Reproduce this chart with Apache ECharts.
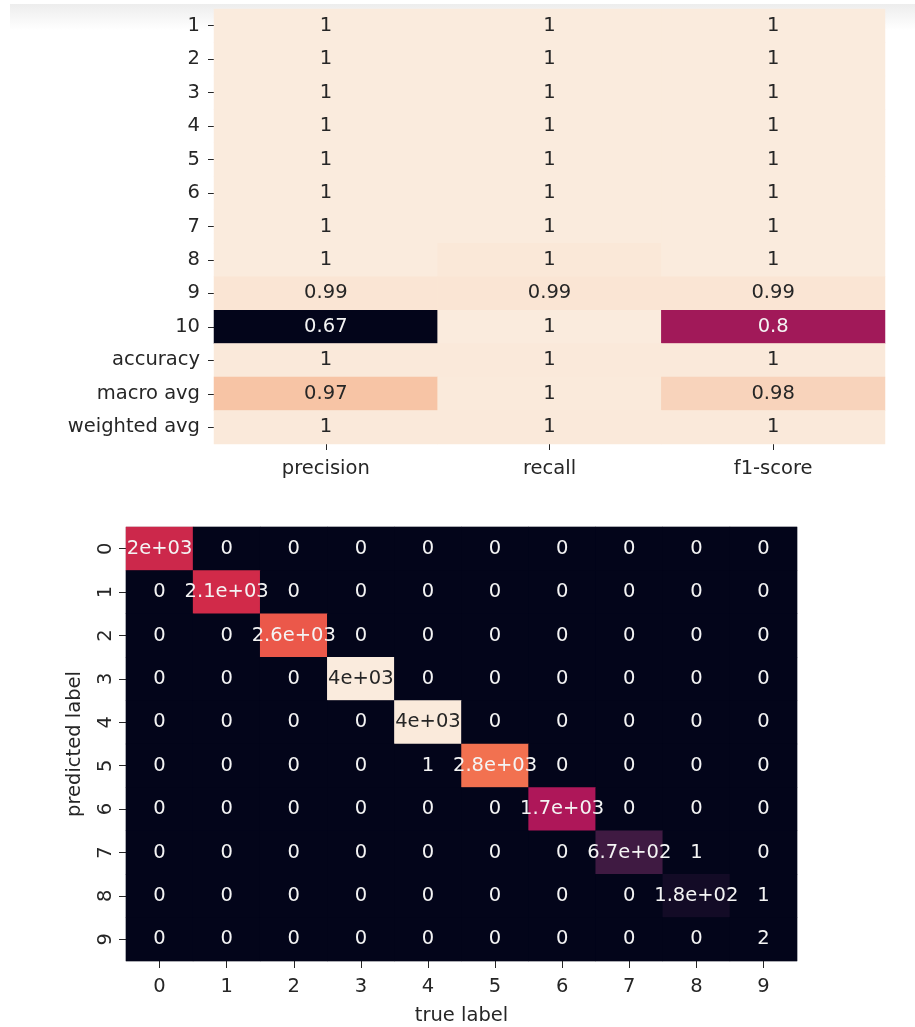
<!DOCTYPE html>
<html>
<head>
<meta charset="utf-8">
<script src="https://cdn.jsdelivr.net/npm/echarts@6/dist/echarts.min.js"></script>
<style>
  html, body { margin: 0; padding: 0; background: #fff; }
  #band { position: absolute; left: 10px; top: 4px; width: 905px; height: 26px;
          background: linear-gradient(#ededed, #ffffff); }
  #chart { position: absolute; left: 0; top: 0; width: 915px; height: 1027px; }
</style>
</head>
<body>
<div id="band"></div>
<div id="chart"></div>
<script>
// classification report (rows top to bottom)
const reportRows = ['1', '2', '3', '4', '5', '6', '7', '8', '9', '10', 'accuracy', 'macro avg', 'weighted avg'];
const reportCols = ['precision', 'recall', 'f1-score'];
const precision = [1, 1, 1, 1, 1, 1, 1, 1, 0.9945, 0.6667, 0.998, 0.966, 0.998];
const recall    = [1, 1, 1, 1, 1, 1, 1, 0.997, 0.9945, 1, 0.998, 0.999, 0.998];
const f1Score   = [1, 1, 1, 1, 1, 1, 1, 1, 0.9945, 0.8, 0.998, 0.979, 0.998];

// confusion matrix: rows = predicted label, cols = true label
const cmLabels = ['0', '1', '2', '3', '4', '5', '6', '7', '8', '9'];
const confusion = [
  [2040, 0, 0, 0, 0, 0, 0, 0, 0, 0],
  [0, 2095, 0, 0, 0, 0, 0, 0, 0, 0],
  [0, 0, 2580, 0, 0, 0, 0, 0, 0, 0],
  [0, 0, 0, 3970, 0, 0, 0, 0, 0, 0],
  [0, 0, 0, 0, 3955, 0, 0, 0, 0, 0],
  [0, 0, 0, 0, 1, 2790, 0, 0, 0, 0],
  [0, 0, 0, 0, 0, 0, 1710, 0, 0, 0],
  [0, 0, 0, 0, 0, 0, 0, 668, 1, 0],
  [0, 0, 0, 0, 0, 0, 0, 0, 183, 1],
  [0, 0, 0, 0, 0, 0, 0, 0, 0, 2]
];

// seaborn "rocket"
const rocket = ['#03051a', '#35193e', '#701f57', '#ad1759', '#e13342', '#f37651', '#f6b48f', '#faebdd'];
const FONT = 'DejaVu Sans';
const FS = 19.5;
const INK = '#262626';

// python '.2g'
function fmtG(v) {
  if (v === 0) return '0';
  const r = Number(v.toPrecision(2));
  const e = Math.floor(Math.log10(Math.abs(r)));
  if (e < -4 || e >= 2) {
    let [m, ex] = r.toExponential(1).split('e');
    m = m.replace(/\.0$/, '');
    const n = parseInt(ex, 10);
    return m + 'e' + (n < 0 ? '-' : '+') + String(Math.abs(n)).padStart(2, '0');
  }
  return String(r);
}

function cells(matrix, lo, hi) {
  const out = [];
  matrix.forEach((row, y) => row.forEach((v, x) => {
    const t = (v - lo) / (hi - lo);
    out.push({ value: [x, y, v], label: { color: t > 0.78 ? INK : '#f4f4f4' } });
  }));
  return out;
}

const reportMatrix = reportRows.map((_, i) => [precision[i], recall[i], f1Score[i]]);
const rFlat = reportMatrix.flat();
const rMin = Math.min(...rFlat), rMax = Math.max(...rFlat);
const cFlat = confusion.flat();
const cMin = Math.min(...cFlat), cMax = Math.max(...cFlat);

const tick = { show: true, alignWithLabel: true, length: 6, lineStyle: { color: INK, width: 1 } };
const lbl = { color: INK, fontFamily: FONT, fontSize: FS };

const chart = echarts.init(document.getElementById('chart'));
chart.setOption({
  animation: false,
  backgroundColor: 'transparent',
  textStyle: { fontFamily: FONT },
  grid: [
    { left: 214, top: 9, width: 671, height: 435, show: true, borderWidth: 0, backgroundColor: '#faebdd' },
    { left: 126, top: 527, width: 671, height: 436, show: true, borderColor: '#c9c9cc', borderWidth: 1, backgroundColor: '#03051a' }
  ],
  xAxis: [
    { type: 'category', gridIndex: 0, data: reportCols, axisLine: { show: false }, axisTick: tick,
      axisLabel: { ...lbl, margin: 15 }, splitLine: { show: false } },
    { type: 'category', gridIndex: 1, data: cmLabels, axisLine: { show: false }, axisTick: { ...tick, length: 7 },
      axisLabel: { ...lbl, margin: 16 }, splitLine: { show: false },
      name: 'true label', nameLocation: 'middle', nameGap: 45, nameTextStyle: { ...lbl } }
  ],
  yAxis: [
    { type: 'category', gridIndex: 0, data: reportRows, inverse: true, axisLine: { show: false }, axisTick: tick,
      axisLabel: { ...lbl, margin: 14 }, splitLine: { show: false } },
    { type: 'category', gridIndex: 1, data: cmLabels, inverse: true, axisLine: { show: false }, axisTick: { ...tick, length: 7 },
      axisLabel: { ...lbl, margin: 10, rotate: 90 }, splitLine: { show: false },
      name: 'predicted label', nameLocation: 'middle', nameGap: 41, nameRotate: 90, nameTextStyle: { ...lbl } }
  ],
  visualMap: [
    { type: 'continuous', show: false, seriesIndex: 0, dimension: 2, min: rMin, max: rMax, inRange: { color: rocket } },
    { type: 'continuous', show: false, seriesIndex: 1, dimension: 2, min: cMin, max: cMax, inRange: { color: rocket } }
  ],
  series: [
    {
      type: 'heatmap', xAxisIndex: 0, yAxisIndex: 0,
      data: cells(reportMatrix, rMin, rMax),
      label: { show: true, fontFamily: FONT, fontSize: FS, formatter: (p) => fmtG(p.value[2]) },
      emphasis: { disabled: true }
    },
    {
      type: 'heatmap', xAxisIndex: 1, yAxisIndex: 1,
      data: cells(confusion, cMin, cMax),
      label: { show: true, fontFamily: FONT, fontSize: FS, formatter: (p) => fmtG(p.value[2]) },
      emphasis: { disabled: true }
    }
  ]
});
</script>
</body>
</html>
